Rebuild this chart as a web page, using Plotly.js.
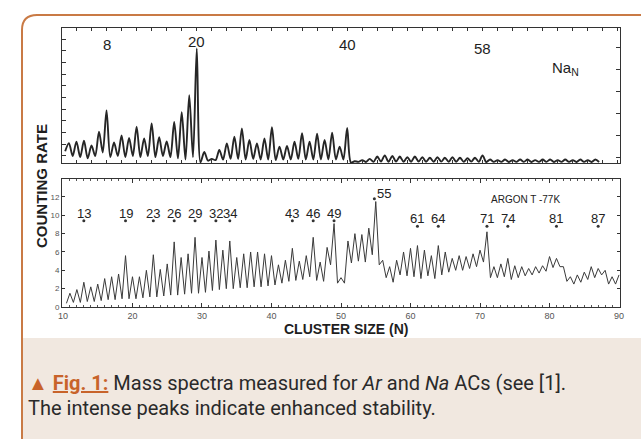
<!DOCTYPE html>
<html>
<head>
<meta charset="utf-8">
<script src="https://cdn.plot.ly/plotly-3.0.1.min.js"></script>
<style>html,body{margin:0;padding:0;background:#fff;}#chart{width:641px;height:439px;}</style>
</head>
<body>
<div id="chart"></div>
<script>
// ---------- Na_N spectrum (top panel) ----------
// peak heights at integer cluster sizes N = 3..73
const naPeakN = [];
for (let n = 3; n <= 73; n++) naPeakN.push(n);
const naPeaks = [1.7,1.82,1.9,1.5,2.68,4.5,1.75,2.35,2.15,3.1,2.1,3.39,2.2,1.85,3.5,4.35,5.8,9.8,0.95,0.35,
  1.11,1.68,2.25,2.96,1.97,1.68,2.1,3.05,1.4,1.45,1.82,2.54,1.82,2.5,1.97,2.59,1.4,3.0,
  0.15,0.25,0.35,0.55,0.65,0.6,0.55,0.5,0.55,0.5,0.45,0.5,0.45,0.5,0.45,0.4,0.45,0.65,
  0.3,0.25,0.3,0.25,0.3,0.3,0.25,0.3,0.3,0.25,0.3,0.25,0.3,0.25,0.3];
// minima between peaks, at N = 2.5 .. 73.5
const naValleys = [1.0,0.6,0.5,0.4,0.6,0.9,0.5,0.6,0.5,0.6,0.5,0.6,0.5,0.6,0.5,0.4,0.3,0.5,0.05,0.2,
  0.25,0.3,0.35,0.35,0.3,0.35,0.3,0.3,0.25,0.3,0.3,0.35,0.3,0.3,0.3,0.3,0.3,0.3,0.05,
  0.1,0.08,0.1,0.12,0.1,0.12,0.1,0.1,0.12,0.1,0.1,0.12,0.1,0.1,0.1,0.12,0.1,0.08,0.1,0.1,0.08,0.1,0.1,0.08,0.1,0.1,0.08,0.1,0.1,0.08,0.1,0.08,0.08];
const naLabels = [8, 20, 40, 58];

// ---------- Ar_N spectrum (bottom panel) ----------
const arPeakN = [];
for (let n = 11; n <= 90; n++) arPeakN.push(n);
const arPeaks = [1.5,1.9,2.7,2.2,2.5,3.1,3.3,3.6,5.6,3.3,3.3,4.0,5.7,4.1,4.7,7.1,5.4,5.8,7.6,5.4,
  6.1,7.3,6.2,7.2,5.4,5.8,6.0,6.0,5.8,5.6,4.6,5.1,6.4,5.0,5.6,7.6,4.9,6.5,9.1,3.2,
  7.2,8.0,7.9,8.6,11.5,5.1,4.4,5.1,6.0,6.4,6.7,6.2,5.6,6.7,6.0,5.3,5.6,5.5,5.8,6.2,
  8.2,4.4,4.7,5.3,4.5,4.4,4.2,4.4,4.5,5.5,5.3,4.4,3.3,3.5,3.8,4.4,4.2,4.0,3.3,3.5];
// minima at N = 10.5 .. 89.5
const arValleys = [0.4,0.5,0.5,0.6,0.6,0.7,0.8,0.8,0.9,0.9,0.9,1.0,1.1,1.1,1.2,1.3,1.3,1.4,1.5,1.5,
  1.6,1.8,1.9,2.0,2.0,2.1,2.1,2.2,2.2,2.3,2.4,2.6,2.8,2.9,3.0,3.3,2.9,2.8,4.6,2.6,
  2.6,4.8,5.0,4.9,5.7,4.6,3.2,2.7,3.5,3.4,3.3,3.1,3.4,3.1,3.5,3.8,4.0,4.0,4.2,4.4,
  4.9,3.2,3.2,3.3,3.0,3.2,3.4,3.5,3.7,3.9,4.3,4.4,2.8,2.5,2.7,3.0,3.2,3.5,2.5,2.5];
const arLabelsHigh = [13, 19, 23, 26, 29, 32, 34, 43, 46, 49];
const arLabelsLow = [61, 64, 71, 74, 81, 87];
const arLabelTop = 55;
const arTicks = [10, 20, 30, 40, 50, 60, 70, 80, 90];
const arYTicks = [0, 2, 4, 6, 8, 10, 12];

// interleave minima and maxima
function weave(valleys, peaks, firstValleyN) {
  const xs = [], ys = [];
  for (let i = 0; i < valleys.length; i++) {
    xs.push(firstValleyN + i); ys.push(valleys[i]);
    if (i < peaks.length) { xs.push(firstValleyN + i + 0.5); ys.push(peaks[i]); }
  }
  return {xs, ys};
}
const na = weave(naValleys, naPeaks, 2.5);
const ar = weave(arValleys, arPeaks, 10.5);

// pixel helpers (plot area: x 62..620, y 28..307)
const L = 62, R = 620, T = 28, B = 307;
const px = x => (x - L) / (R - L);
const py = y => (B - y) / (B - T);

const FONT = 'Liberation Sans, Arial, sans-serif';
const ink = '#262626';

const traces = [
  {x: na.xs, y: na.ys, xaxis: 'x', yaxis: 'y', mode: 'lines',
   line: {color: ink, width: 1.9, shape: 'spline', smoothing: 0.85}, hoverinfo: 'skip'},
  {x: ar.xs, y: ar.ys, xaxis: 'x2', yaxis: 'y2', mode: 'lines',
   line: {color: '#3a3a3a', width: 1}, hoverinfo: 'skip'},
  {x: arLabelsHigh.concat(arLabelsLow).concat([arLabelTop - 0.2]),
   y: arLabelsHigh.map(() => 9.4).concat(arLabelsLow.map(() => 8.8)).concat([11.8]),
   xaxis: 'x2', yaxis: 'y2', mode: 'markers', marker: {size: 3, color: '#333'}, hoverinfo: 'skip'}
];

const ann = [];
const topY = {8: 10.17, 20: 10.4, 40: 10.1, 58: 9.8};
naLabels.forEach(n => ann.push({x: n, y: topY[n], xref: 'x', yref: 'y', text: String(n), showarrow: false,
  xanchor: 'center', yanchor: 'middle', font: {family: FONT, size: 15, color: '#1e1e1e'}}));
ann.push({x: 69, y: 8.1, xref: 'x', yref: 'y', text: 'Na<sub>N</sub>', showarrow: false,
  xanchor: 'center', yanchor: 'middle', font: {family: FONT, size: 15, color: '#1e1e1e'}});
arLabelsHigh.forEach(n => ann.push({x: n, y: 10.25, xref: 'x2', yref: 'y2', text: String(n), showarrow: false,
  xanchor: 'center', yanchor: 'middle', font: {family: FONT, size: 13, color: '#222'}}));
arLabelsLow.forEach(n => ann.push({x: n, y: 9.65, xref: 'x2', yref: 'y2', text: String(n), showarrow: false,
  xanchor: 'center', yanchor: 'middle', font: {family: FONT, size: 13, color: '#222'}}));
ann.push({x: arLabelTop - 0.1, y: 12.4, xref: 'x2', yref: 'y2', xanchor: 'left', yanchor: 'middle',
  text: String(arLabelTop), showarrow: false, font: {family: FONT, size: 13, color: '#222'}});
ann.push({x: 76.5, y: 11.75, xref: 'x2', yref: 'y2', text: 'ARGON T -77K', showarrow: false,
  xanchor: 'center', yanchor: 'middle', font: {family: FONT, size: 10, color: '#222'}});
ann.push({x: px(41), y: py(186), xref: 'paper', yref: 'paper', text: '<b>COUNTING RATE</b>', textangle: -90,
  xanchor: 'center', yanchor: 'middle', showarrow: false, font: {family: FONT, size: 15, color: '#1e1e1e'}});
ann.push({x: px(346), y: py(329), xref: 'paper', yref: 'paper', text: '<b>CLUSTER SIZE (N)</b>',
  xanchor: 'center', yanchor: 'middle', showarrow: false, font: {family: FONT, size: 14, color: '#1e1e1e'}});
const CAP = 'Roboto, sans-serif';
ann.push({x: px(26), y: py(383), xref: 'paper', yref: 'paper', xanchor: 'left', yanchor: 'middle', showarrow: false,
  text: "<span style='color:#c8632a'>▲ <b><span style='text-decoration:underline'>Fig. 1:</span></b></span> Mass spectra measured for <i>Ar</i> and <i>Na</i> ACs (see [1].",
  font: {family: CAP, size: 20, color: '#2a2a2a'}});
ann.push({x: px(26), y: py(408), xref: 'paper', yref: 'paper', xanchor: 'left', yanchor: 'middle', showarrow: false,
  text: 'The intense peaks indicate enhanced stability.',
  font: {family: CAP, size: 20, color: '#2a2a2a'}});

const shapes = [
  {type: 'rect', xref: 'paper', yref: 'paper', x0: px(22), x1: px(641), y0: py(439), y1: py(338),
   fillcolor: '#f1e8e0', line: {width: 0}, layer: 'below'},
  {type: 'path', xref: 'paper', yref: 'paper',
   path: `M ${px(22)} ${py(439)} L ${px(22)} ${py(30)} Q ${px(22)} ${py(15)} ${px(37)} ${py(15)} L ${px(641)} ${py(15)}`,
   line: {color: '#c97a45', width: 2}}
];

const axBase = {showgrid: false, zeroline: false, showline: true, linecolor: '#333', linewidth: 1,
  tickcolor: '#333', ticks: 'inside'};

const layout = {
  width: 641, height: 439,
  margin: {l: L, r: 641 - R, t: T, b: 439 - B, pad: 0},
  paper_bgcolor: '#ffffff', plot_bgcolor: 'rgba(0,0,0,0)',
  showlegend: false,
  font: {family: FONT},
  xaxis: Object.assign({}, axBase, {domain: [0, 1], anchor: 'y', range: [2.08, 76.28],
    showticklabels: false, dtick: 2, tick0: 0, ticklen: 3, mirror: 'ticks'}),
  yaxis: Object.assign({}, axBase, {domain: [py(163), 1], anchor: 'x', range: [0, 11.54],
    showticklabels: false, dtick: 1, tick0: 0.6, ticklen: 4, mirror: true}),
  yaxis3: {overlaying: 'y', side: 'right', anchor: 'x', range: [0, 11.54], showgrid: false, zeroline: false,
    showline: false, showticklabels: false, ticks: 'inside', ticklen: 4, tickcolor: '#333', dtick: 1.88, tick0: 0.5},
  xaxis2: Object.assign({}, axBase, {domain: [0, 1], anchor: 'y2', range: [9.86, 90.14],
    tickvals: arTicks, ticktext: arTicks.map(String), ticklen: 4, mirror: 'allticks',
    minor: {dtick: 1, tick0: 0, ticks: 'inside', ticklen: 2, tickcolor: '#555'},
    tickfont: {family: FONT, size: 9, color: '#555'}}),
  yaxis2: Object.assign({}, axBase, {domain: [0, py(179)], anchor: 'x2', range: [0, 13.96],
    tickvals: arYTicks, ticktext: arYTicks.map(String), ticklen: 3, mirror: 'ticks',
    tickfont: {family: FONT, size: 8, color: '#555'}}),
  annotations: ann,
  shapes: shapes
};

// empty trace so the right-hand tick axis of the top panel renders
traces.push({x: [null], y: [null], xaxis: 'x', yaxis: 'y3', mode: 'lines', hoverinfo: 'skip'});

Plotly.newPlot('chart', traces, layout, {staticPlot: true, displayModeBar: false});
</script>
</body>
</html>
